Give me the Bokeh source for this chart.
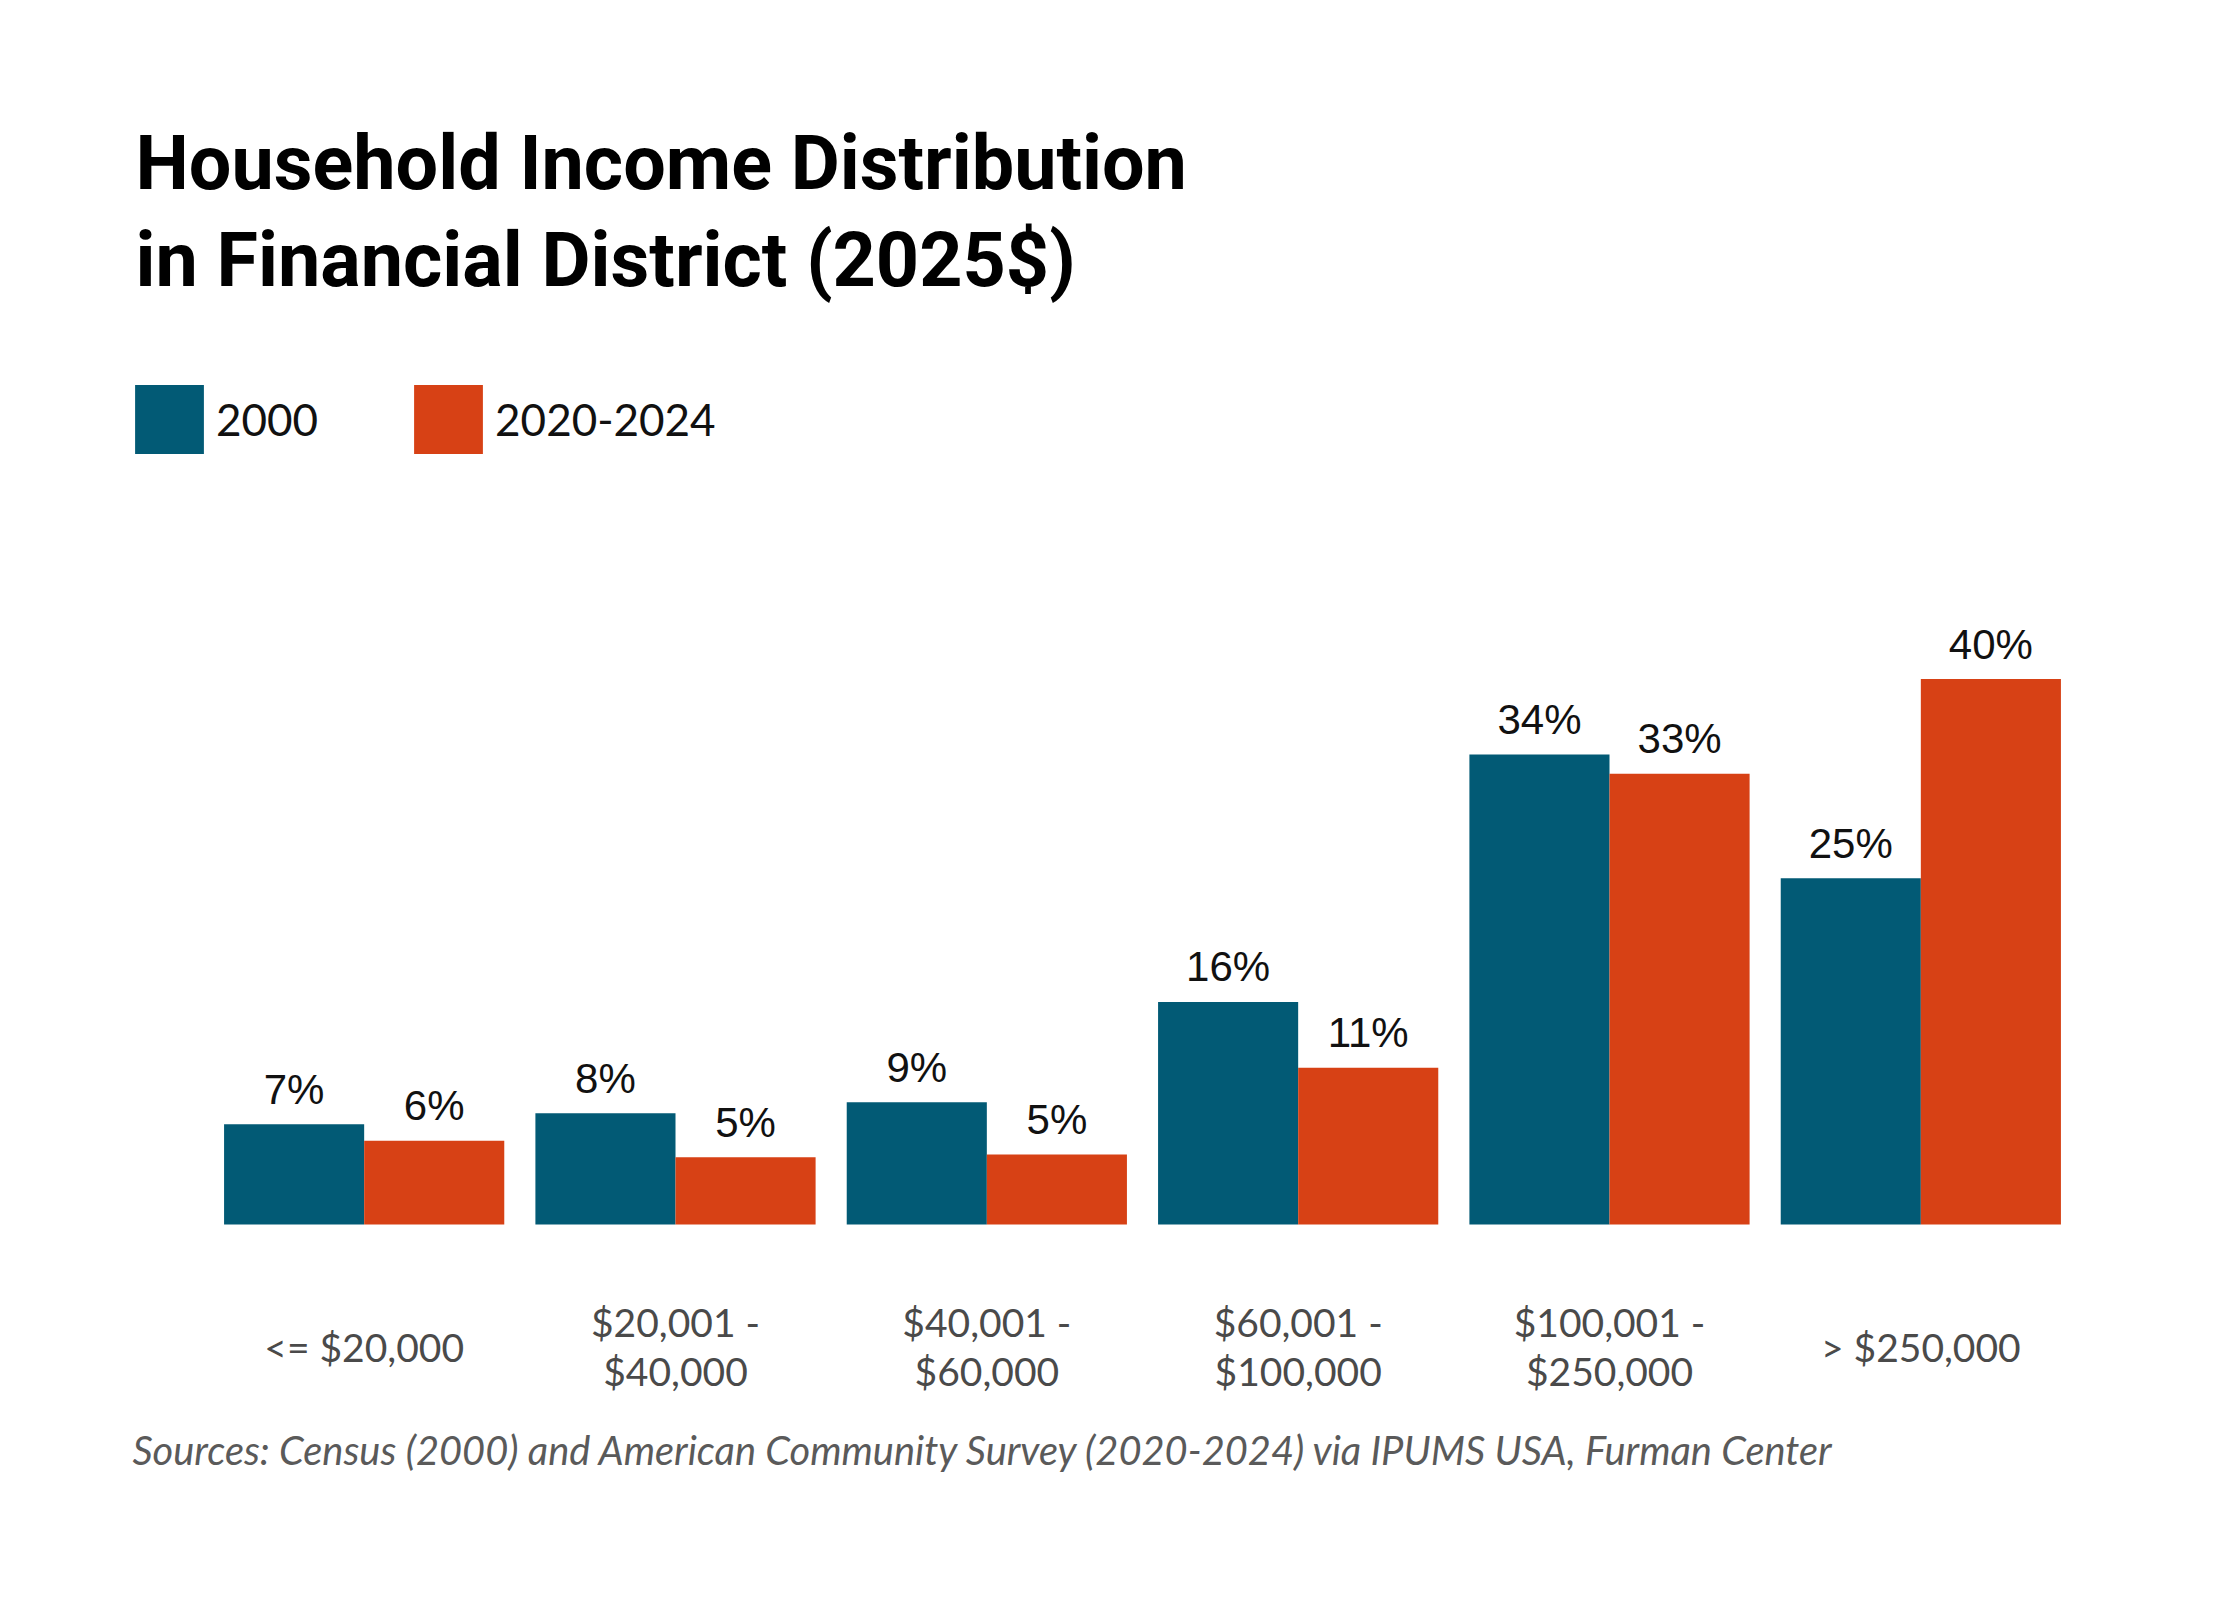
from bokeh.plotting import figure
from bokeh.models import Range1d, Label, Legend, LegendItem, ColumnDataSource
from bokeh.embed import file_html
from bokeh.resources import INLINE

categories = ["<= $20,000", "$20,001 - $40,000", "$40,001 - $60,000",
              "$60,001 - $100,000", "$100,001 - $250,000", "> $250,000"]
category_labels = ["<= $20,000", "$20,001 -\n$40,000", "$40,001 -\n$60,000",
                   "$60,001 -\n$100,000", "$100,001 -\n$250,000", "> $250,000"]
series_names = ["2000", "2020-2024"]
values_2000 = [7.3, 8.1, 8.9, 16.2, 34.2, 25.2]
values_2020 = [6.1, 4.9, 5.1, 11.4, 32.8, 39.7]
colors = ["#025a75", "#d74115"]

title_lines = ["Household Income Distribution", "in Financial District (2025$)"]
source_text = "Sources: Census (2000) and American Community Survey (2020-2024) via IPUMS USA, Furman Center"

# ---- layout constants (pixels in the figure) ----
W, H = 2224, 1584
plot_left, plot_right = 208, 2224 - 148      # extent of the six category slots
baseline_y = 1224                            # screen y of the zero line (from top)
px_per_unit = 13.74                          # pixels per percentage point

n = len(categories)
slot = (plot_right - plot_left) / n
x0 = -0.5 - plot_left / slot
x1 = x0 + W / slot
y0 = -(H - baseline_y) / px_per_unit
y1 = y0 + H / px_per_unit

idx = list(range(n))
bw = 0.45
src = ColumnDataSource(dict(
    x=idx,
    xa=[i - bw / 2 for i in idx],
    xb=[i + bw / 2 for i in idx],
    zero=[0] * n,
    v2000=values_2000,
    v2020=values_2020,
    l2000=[f"{round(v)}%" for v in values_2000],
    l2020=[f"{round(v)}%" for v in values_2020],
    cat=category_labels,
))

p = figure(width=W, height=H, x_range=Range1d(x0, x1), y_range=Range1d(y0, y1),
           output_backend="svg", toolbar_location=None,
           min_border=0, x_axis_location=None, y_axis_location=None)
p.outline_line_color = None
p.xgrid.visible = False
p.ygrid.visible = False
p.background_fill_color = "white"
p.border_fill_color = "white"

r1 = p.vbar(x="xa", top="v2000", width=bw, source=src, fill_color=colors[0], line_color=None)
r2 = p.vbar(x="xb", top="v2020", width=bw, source=src, fill_color=colors[1], line_color=None)

lab_kw = dict(text_align="center", text_baseline="alphabetic", text_font_size="42px",
              text_font={"value": "Liberation Sans"}, text_color="#111111", y_offset=-35)
p.text(x="xa", y="v2000", text="l2000", source=src, **lab_kw)
p.text(x="xb", y="v2020", text="l2020", source=src, **lab_kw)

# category labels below the bars
p.text(x="x", y="zero", text="cat", source=src, text_align="center", text_baseline="middle",
       text_font={"value": "Lato"}, text_font_size="39px", text_color="#4a4a4a",
       text_line_height=1.08, y_offset=122)

# title
for txt, yy in zip(title_lines, [H - 162, H - 259]):
    p.add_layout(Label(x=135, y=yy, x_units="screen", y_units="screen", text=txt,
                       text_font="Roboto", text_font_style="bold", text_font_size="75.5px",
                       text_color="black", text_baseline="alphabetic"))

# source
p.add_layout(Label(x=132, y=H - 1449, x_units="screen", y_units="screen", text=source_text,
                   text_font="Lato", text_font_style="italic", text_font_size="39.8px",
                   text_color="#5a5a5a", text_baseline="middle"))

legend = Legend(items=[LegendItem(label=series_names[0], renderers=[r1]),
                       LegendItem(label=series_names[1], renderers=[r2])],
                location=(126, H - 462), orientation="horizontal",
                glyph_width=86, glyph_height=86, label_standoff=4, spacing=87,
                padding=0, margin=0, border_line_color=None, background_fill_alpha=0,
                label_text_font="Lato", label_text_font_size="44px", label_text_color="#111111",
                label_height=86)
p.add_layout(legend)

open("out.html", "w").write(file_html(p, INLINE))
